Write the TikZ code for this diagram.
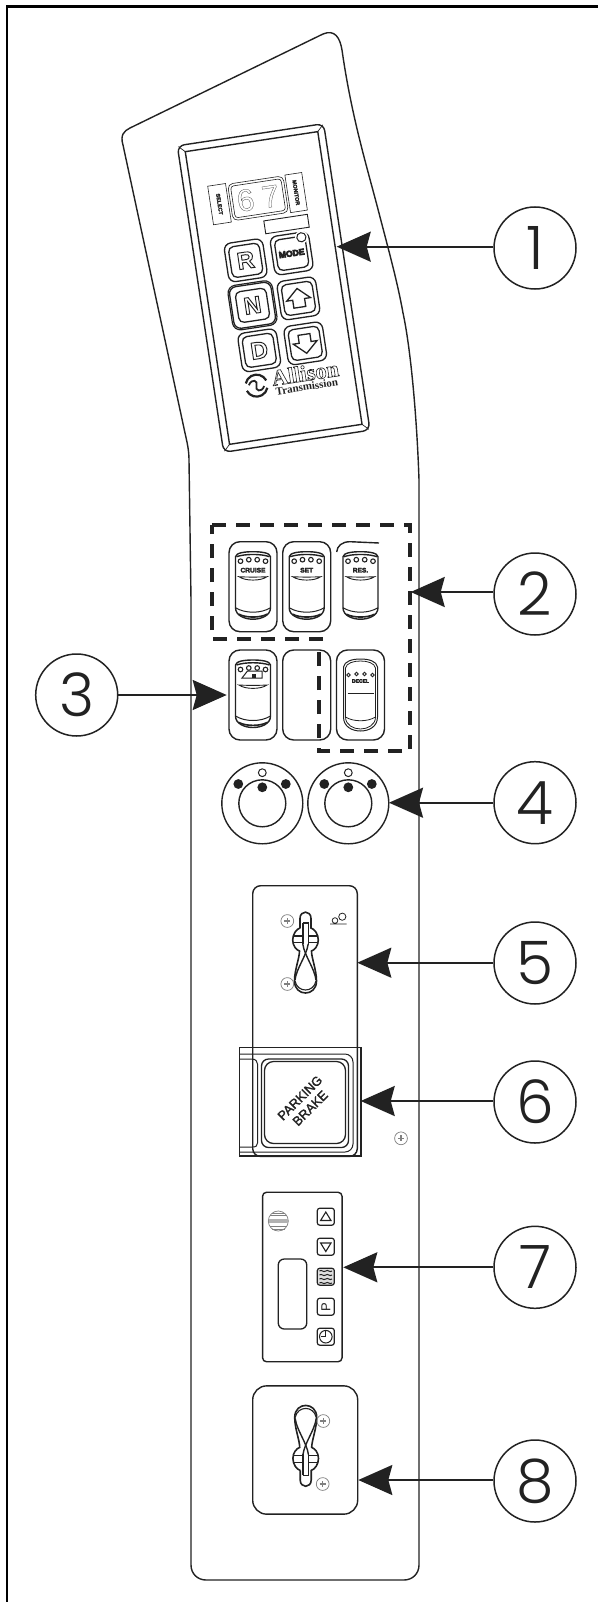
\documentclass[tikz,border=0pt]{standalone}
\usepackage{fontspec}
\usetikzlibrary{arrows.meta}
\setmainfont{Liberation Sans}
\newfontfamily\serifbold{Liberation Serif}[BoldFont=* Bold]
\newfontfamily\numfont{Poppins}[UprightFont=* Light]
\newcommand{\outl}[2]{\special{pdf:code q 1 Tr #1 w}#2\special{pdf:code Q}}
\newcommand{\heavy}[2]{\special{pdf:code q 2 Tr #1 w}#2\special{pdf:code Q}}
\definecolor{ink}{HTML}{222222}
\tikzset{
  ln/.style={draw=ink,line width=1.4pt},
  thin ln/.style={draw=ink,line width=0.7pt},
  callout/.style={circle,draw=ink,line width=1.5pt,minimum size=82pt,inner sep=0pt,fill=white,text=ink,font=\numfont\fontsize{60}{60}\selectfont},
  lead/.style={draw=ink,line width=2.2pt,-{Stealth[length=34pt,width=30pt,inset=4pt,fill=ink]}},
  rframe/.style={draw=ink,line width=1.4pt,rounded corners=11pt,minimum width=48pt,minimum height=90pt,inner sep=0pt},
  dashbox/.style={draw=ink,line width=3.6pt,dash pattern=on 14pt off 10pt},
  keybtn/.style={draw=ink,line width=1.3pt,rounded corners=5pt,minimum width=31pt,minimum height=31pt,inner sep=0pt,transform shape},
  keyout/.style={draw=ink,line width=1.3pt,rounded corners=7pt,minimum width=39pt,minimum height=39pt,inner sep=0pt,transform shape},
  keytext/.style={transform shape,inner sep=0pt,text=ink},
  rlabel/.style={inner sep=0pt,text=ink,font=\bfseries\fontsize{6.6}{7}\selectfont},
  smallkey/.style={draw=ink,line width=1.2pt,rounded corners=2.5pt,minimum width=17pt,minimum height=17pt,inner sep=0pt},
  pics/rocker/.style={code={
    \draw[draw=ink,line width=1.4pt] (-17.5,66) -- (-17.5,15) .. controls (-17,11) and (-8,10) .. (0,10) .. controls (8,10) and (17,11) .. (17.5,15) -- (17.5,66) .. controls (17.5,74) and (8,77.5) .. (0,77.5) .. controls (-8,77.5) and (-17.5,74) .. (-17.5,66) -- cycle;
    \draw[draw=ink,line width=1.4pt] (-16.5,15) .. controls (-8,12) and (8,12) .. (16.5,15);
    \draw[draw=ink,line width=1pt] (-17.5,66) .. controls (-8,72) and (8,72) .. (17.5,66);
    \draw[draw=ink,line width=1.6pt] (-14,72.5) .. controls (-7,76.3) and (7,76.3) .. (14,72.5);
    \foreach \dx/\dy in {-12.5/19.5,-4.2/18,4.2/18,12.5/19.5} \draw[draw=ink,line width=1.1pt] (\dx,\dy) circle[radius=2.3pt];
    \draw[draw=ink,line width=.9pt] (-14,35) .. controls (-6,35.5) and (6,35.5) .. (14,35) .. controls (8,39.5) and (-8,39.5) .. (-14,35) -- cycle;
    \node[rlabel] (-lab) at (0,28.5) {\heavy{0.25}{#1}};
  }},
  pics/lever/.style={code={
    \draw[draw=ink,line width=1.6pt] (-5.5,-12) -- (-5.5,-21.5) .. controls (-5.5,-30) and (5.5,-30) .. (5.5,-21.5) -- (5.5,-12) .. controls (9,-11) and (12.8,-6) .. (12.8,0) .. controls (12.8,6) and (9,10) .. (6,11) .. controls (6,18) and (11,30) .. (11,41) .. controls (11,57) and (-11,57) .. (-11,41) .. controls (-11,30) and (-6,18) .. (-6,11) .. controls (-9,10) and (-12.8,6) .. (-12.8,0) .. controls (-12.8,-6) and (-9,-11) .. (-5.5,-12);
    \draw[ln] (-2.7,-17) -- (2.7,-17) -- (2.7,4);
    \draw[ln] (-2.7,-17) -- (-2.7,4);
    \draw[ln] (-2.7,4) .. controls (-1,16) and (9,28) .. (10.5,40);
    \draw[ln] (2.7,4) .. controls (1,16) and (-9,28) .. (-10.5,40);
    \draw[draw=ink,line width=1.1pt] (-10.5,41) .. controls (-8,53) and (8,53) .. (10.5,41);
    \draw[draw=ink,line width=1.1pt] (-12,-4) -- (-2.7,-4) (2.7,-4) -- (12,-4) (-12,2.7) -- (-2.7,2.7) (2.7,2.7) -- (12,2.7);
  }},
  pics/screw/.style={code={
    \draw[draw=gray,line width=.7pt] (0,0) circle[radius=6.4pt];
    \draw[draw=gray,line width=1.2pt] (-3,0) -- (3,0) (0,-3) -- (0,3);
  }}
}
\begin{document}
\begin{tikzpicture}[x=1pt,y=-1pt]
\useasboundingbox (0,0) rectangle (598,1602);
\fill[white] (0,0) rectangle (598,1602);
% outer frame
\draw[black,line width=2.4pt] (7,1602) -- (7,6.5) -- (598,6.5);
% panel
\draw[ln] (130,128) -- (323,34) .. controls (335,29) and (340,38) .. (342,50) .. controls (352,120) and (368,170) .. (380,217) .. controls (390,255) and (398,285) .. (403,313) .. controls (411,350) and (417,420) .. (419,480) -- (419,1565) .. controls (419,1574) and (412,1580) .. (404,1580) -- (206,1580) .. controls (198,1580) and (191,1574) .. (191,1565) -- (191,600) -- (189,460) .. controls (189,450) and (187,442) .. (185,433) -- (123,145) .. controls (120,135) and (124,131) .. (130,128) -- cycle;
% keypad
\begin{scope}[shift={(273.5,287)},rotate=8.6]
  \draw[ln,rounded corners=7pt] (-74,-154) rectangle (74,156);
  \draw[ln] (-67,-147) rectangle (67,149);
  \draw[thin ln] (-73,-153) -- (-67,-147) (73,-153) -- (67,-147) (73,155) -- (67,149) (-73,155) -- (-67,149);
  % display row
  \node[draw=ink,line width=.6pt,minimum width=18pt,minimum height=39pt,inner sep=0pt,transform shape] (selbox) at (-41,-90) {};
  \node[keytext,rotate=-90,font=\bfseries\fontsize{5.4}{6}\selectfont] (seltxt) at (-41,-90) {\heavy{0.2}{SELECT}};
  \node[draw=ink,line width=.6pt,minimum width=17pt,minimum height=38pt,inner sep=0pt,transform shape] (monbox) at (36.5,-90) {};
  \node[keytext,rotate=-90,font=\bfseries\fontsize{5.4}{6}\selectfont] (montxt) at (36.5,-90) {\heavy{0.2}{MONITOR}};
  \node[draw=ink,line width=.6pt,rounded corners=5pt,minimum width=56pt,minimum height=37pt,inner sep=0pt,transform shape] (dispo) at (-2,-90) {};
  \node[draw=ink,line width=.6pt,rounded corners=3pt,minimum width=51pt,minimum height=32pt,inner sep=0pt,transform shape] (dispi) at (-2,-90) {};
  \node[keytext,font=\fontsize{31}{31}\selectfont] (dig) at (-2,-90) {\outl{0.22}{6\hspace{8pt}7}};
  \node[draw=ink,line width=.9pt,minimum width=44pt,minimum height=13pt,inner sep=0pt,transform shape] (blank) at (22.3,-60.3) {};
  % buttons
  \node[keyout] (Ro) at (-23.5,-30.5) {};
  \node[keybtn] (Ri) at (-23.5,-30.5) {};
  \node[keytext,font=\bfseries\fontsize{24}{24}\selectfont] (R) at (-23.5,-30.5) {\outl{0.95}{R}};
  \node[keyout] (Mo) at (23,-30.5) {};
  \node[keybtn] (Mi) at (23,-30.5) {};
  \node[keytext,font=\bfseries\fontsize{8.6}{9}\selectfont] (M) at (23,-30.5) {\heavy{0.7}{MODE}};
  \fill[white] (35,-45) circle[radius=6.5pt];
  \draw[draw=ink,line width=1pt] (35,-45) circle[radius=4.6pt];
  \node[draw=ink,line width=1.2pt,rounded corners=8pt,minimum width=45pt,minimum height=45pt,inner sep=0pt,transform shape] (Noo) at (-23.5,15) {};
  \node[keyout,minimum width=42pt,minimum height=42pt] (No) at (-23.5,15) {};
  \node[keybtn] (Ni) at (-23.5,15) {};
  \node[keytext,font=\bfseries\fontsize{24}{24}\selectfont] (N) at (-23.5,15) {\outl{0.95}{N}};
  \node[keyout] (Uo) at (23,15) {};
  \node[keybtn] (Ui) at (23,15) {};
  \draw[draw=ink,line width=1.3pt,line join=miter] (23,5) -- (35,16) -- (29,16) -- (29,24) -- (17,24) -- (17,16) -- (11,16) -- cycle;
  \node[keyout] (Do) at (-23.5,60.5) {};
  \node[keybtn] (Di) at (-23.5,60.5) {};
  \node[keytext,font=\bfseries\fontsize{24}{24}\selectfont] (D) at (-23.5,60.5) {\outl{0.95}{D}};
  \node[keyout] (Lo) at (23,60.5) {};
  \node[keybtn] (Li) at (23,60.5) {};
  \draw[draw=ink,line width=1.3pt,line join=miter] (23,70.5) -- (35,59.5) -- (29,59.5) -- (29,51.5) -- (17,51.5) -- (17,59.5) -- (11,59.5) -- cycle;
  % logo
  \draw[draw=ink,line width=2.2pt] (-31.5,95) ++(20:11pt) arc[start angle=20,end angle=160,radius=11pt];
  \draw[draw=ink,line width=2.2pt] (-31.5,95) ++(200:11pt) arc[start angle=200,end angle=340,radius=11pt];
  \draw[draw=ink,line width=1.8pt] (-39,93.5) .. controls (-35,86.5) and (-29,90.5) .. (-31.5,95) .. controls (-34,99.5) and (-28,103.5) .. (-24,96.5);
  \node[keytext,font=\serifbold\bfseries\fontsize{22.5}{22}\selectfont] (allison) at (18.5,90) {\outl{0.6}{Allison}};
  \node[keytext,font=\serifbold\bfseries\fontsize{11}{12}\selectfont] (transm) at (18,103.5) {Transmission};
\end{scope}
% rocker frames
\node[rframe] (f1) at (253,586.7) {};
\node[rframe] (f2) at (306.7,586.7) {};
\draw[ln] (336.7,552) .. controls (337,546) and (342,541.7) .. (350,541.7) -- (379,543);
\node[rframe] (f4) at (253,695) {};
\node[rframe] (f5) at (306.7,695) {};
\node[rframe] (f6) at (360.5,695) {};
\pic (r1) at (253,541.7) {rocker={CRUISE}};
\pic (r2) at (306.7,541.7) {rocker={SET}};
\pic (r3) at (360.5,541.7) {rocker={RES.}};
\pic (r4) at (253,650) {rocker={}};
\draw[draw=ink,line width=1pt,fill=white] (242,678) -- (247.5,671) -- (262,671) -- (262,678) -- cycle;
\fill[ink] (252,674) rectangle (256,678);
% fourth rocker
\begin{scope}[shift={(360.5,650)}]
  \draw[draw=ink,line width=1pt] (-17,67) -- (-17,17) .. controls (-16,11) and (-8,9) .. (0,9) .. controls (8,9) and (16,11) .. (17,17) -- (17,67) .. controls (17,77) and (8,81) .. (0,81) .. controls (-8,81) and (-17,77) .. (-17,67) -- cycle;
  \draw[draw=ink,line width=.8pt] (-15,67) -- (-15,18) .. controls (-14,13) and (-7,11) .. (0,11) .. controls (7,11) and (14,13) .. (15,18) -- (15,67) .. controls (15,75) and (7,79) .. (0,79) .. controls (-7,79) and (-15,75) .. (-15,67);
  \draw[draw=ink,line width=.8pt] (-15,67) .. controls (-7,72) and (7,72) .. (15,67);
  \foreach \dx/\dy in {-12/25,-4/24,4/24,12/25} \draw[draw=ink,line width=.8pt] (\dx,\dy) circle[radius=1.7pt];
  \node[rlabel,font=\bfseries\fontsize{5}{6}\selectfont] (decel) at (0,31) {\heavy{0.3}{DECEL}};
  \draw[draw=ink,line width=1.2pt] (-13,43.5) -- (13,43.5);
\end{scope}
% dashed boxes
\draw[dashbox] (212,525) -- (410,525) -- (410,751) -- (319,751) -- (319,647);
\draw[dashbox] (323,639) -- (212,639) -- (212,525);
% knobs
\foreach \kx/\kn in {262.3/k1,348.3/k2}{
  \node[circle,draw=ink,line width=1.4pt,minimum size=81pt,inner sep=0pt] (\kn o) at (\kx,803.3) {};
  \node[circle,draw=ink,line width=1.4pt,minimum size=47pt,inner sep=0pt] (\kn i) at (\kx,803.3) {};
  \draw[draw=ink,line width=1pt,fill=white] (\kx,772.7) circle[radius=3.9pt];
  \fill[ink] (\kx-24,784) circle[radius=4.9pt] (\kx+23.5,784) circle[radius=4.9pt] (\kx,787.3) circle[radius=4.9pt];
}
% switch 5 plate
\draw[ln,rounded corners=8pt] (252.7,1100) -- (252.7,885.7) -- (357.3,885.7) -- (357.3,1156.5) -- (252.7,1156.5) -- cycle;
\pic at (305.5,940) {lever};
\pic at (287.3,921) {screw};
\pic at (287.3,984) {screw};
\draw[draw=ink,line width=.8pt] (335,920.5) circle[radius=2.8pt] (342.3,916.7) circle[radius=3.6pt] (330,924) -- (346.7,924);
% parking brake
\draw[ln] (239.3,1047.3) rectangle (361,1156);
\draw[thin ln,line width=1pt,rounded corners=8pt] (239.3,1054) -- (353,1054) -- (353,1152) -- (239.3,1152);
\draw[thin ln,line width=1pt] (239.3,1059) -- (252,1059) .. controls (256,1059) and (257.5,1062) .. (257.5,1064) -- (257.5,1143) .. controls (257.5,1146) and (256,1147) .. (252,1147) -- (239.3,1147);
\draw[thin ln,line width=1.3pt,rounded corners=7pt] (261.5,1059) rectangle (348.5,1147.5);
\node[draw=ink,line width=1.3pt,rounded corners=9pt,minimum width=81pt,minimum height=82pt,inner sep=0pt] (pb) at (305,1102.5) {};
\node[rotate=45,align=center,inner sep=0pt,text=ink,font=\fontsize{12.8}{14.5}\selectfont] (pbt) at (305,1103) {\heavy{0.25}{PARKING}\\\heavy{0.25}{BRAKE}};
\pic at (401,1138.3) {screw};
% panel 7
\node[draw=ink,line width=1.4pt,rounded corners=4pt,minimum width=79.5pt,minimum height=169.5pt,inner sep=0pt] (p7) at (302.3,1277) {};
\node[draw=ink,line width=1.3pt,rounded corners=6pt,minimum width=28.5pt,minimum height=70pt,inner sep=0pt] (win) at (292.5,1294) {};
\draw[draw=gray,line width=.7pt] (278.3,1221) circle[radius=10pt];
\fill[gray!60] (268.5,1219) rectangle (288,1223);
\draw[draw=gray,line width=.8pt] (270,1215.5) -- (286.5,1215.5) (270,1226.5) -- (286.5,1226.5) (272,1229) -- (284.5,1229) (272,1213) -- (284.5,1213);
\node[smallkey] (b1) at (325.8,1216.7) {};
\node[smallkey] (b2) at (325.8,1246.7) {};
\node[smallkey,fill=gray!25] (b3) at (325.8,1276.7) {};
\node[smallkey] (b4) at (325.8,1306.7) {};
\node[smallkey] (b5) at (325.8,1336.7) {};
\draw[draw=ink,line width=1.1pt] (325.8,1212) -- (331,1220.5) -- (320.6,1220.5) -- cycle;
\draw[draw=ink,line width=1.1pt] (325.8,1251.5) -- (331,1243) -- (320.6,1243) -- cycle;
\foreach \wy in {1271,1275,1279,1283}
  \draw[draw=ink,line width=1pt] (319.5,\wy) .. controls (322,\wy-2) and (323,\wy+2) .. (325.8,\wy) .. controls (328,\wy-2) and (329.5,\wy+2) .. (332,\wy);
\node[rotate=90,inner sep=0pt,text=ink,font=\fontsize{13}{13}\selectfont] (pk) at (325.8,1306.7) {P};
\draw[draw=ink,line width=1pt] (325.8,1336.7) circle[radius=6.3pt];
\draw[draw=ink,line width=1pt] (325.8,1331) -- (325.8,1336.7) -- (320.5,1336.7);
% panel 8
\node[draw=ink,line width=1.4pt,rounded corners=14pt,minimum width=105pt,minimum height=128.3pt,inner sep=0pt] (p8) at (305.2,1450) {};
\pic[yscale=-1] at (305.7,1458.4) {lever};
\pic at (323.3,1421) {screw};
\pic at (322.7,1484) {screw};
% callouts
\node[callout] (c1) at (535,248) {1};
\node[callout] (c2) at (535,594) {2};
\node[callout] (c3) at (76.7,695) {3};
\node[callout] (c4) at (535,802.7) {4};
\node[callout] (c5) at (535,963) {5};
\node[callout] (c6) at (535,1102) {6};
\node[callout] (c7) at (535,1267.3) {7};
\node[callout] (c8) at (535,1481) {8};
\coordinate (t1) at (336.7,246.7);
\coordinate (t2) at (410.7,592);
\coordinate (t3) at (226.7,695);
\coordinate (t4) at (389,802.7);
\coordinate (t5) at (357.3,962.7);
\coordinate (t6) at (360.7,1101);
\coordinate (t7) at (343.3,1267.3);
\coordinate (t8) at (358.3,1480);
\draw[lead] (t1 -| c1.west) -- (t1);
\draw[lead] (t2 -| c2.west) -- (t2);
\draw[lead] (c3.east) -- (t3);
\draw[lead] (t4 -| c4.west) -- (t4);
\draw[lead] (t5 -| c5.west) -- (t5);
\draw[lead] (t6 -| c6.west) -- (t6);
\draw[lead] (t7 -| c7.west) -- (t7);
\draw[lead] (t8 -| c8.west) -- (t8);
\end{tikzpicture}
\end{document}
